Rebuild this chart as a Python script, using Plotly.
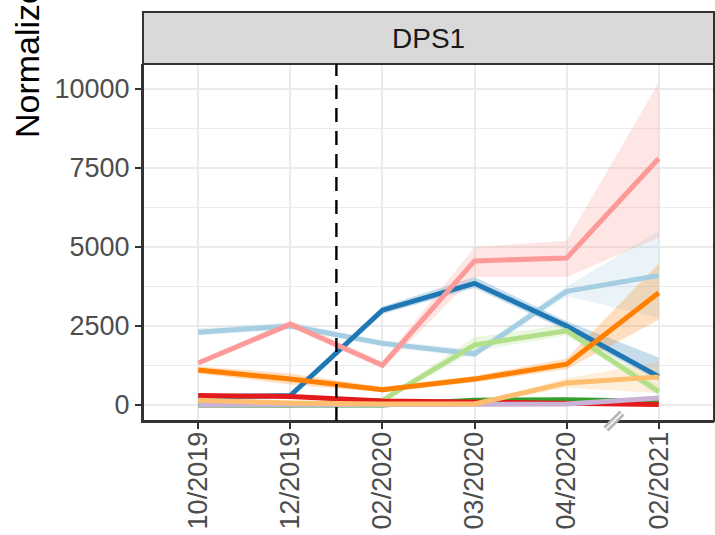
import plotly.graph_objects as go

dates = ["10/2019", "12/2019", "02/2020", "03/2020", "04/2020", "02/2021"]

# series: values, lower, upper
light_blue = [2300, 2500, 1950, 1620, 3600, 4100]
light_blue_lo = [2200, 2400, 1850, 1500, 3450, 2750]
light_blue_hi = [2420, 2620, 2050, 1750, 3750, 5500]

dark_blue = [250, 300, 3000, 3850, 2500, 900]
dark_blue_lo = [200, 250, 2880, 3700, 2350, 750]
dark_blue_hi = [300, 350, 3120, 4050, 2650, 1500]

light_green = [0, 0, 150, 1900, 2350, 420]
light_green_lo = [0, 0, 100, 1700, 2200, 300]
light_green_hi = [0, 0, 200, 2150, 2550, 600]

green = [0, 0, 0, 150, 170, 120]
green_lo = [0, 0, 0, 120, 140, 90]
green_hi = [0, 0, 0, 180, 200, 150]

pink = [1330, 2560, 1260, 4560, 4650, 7800]
pink_lo = [1250, 2450, 1150, 4050, 4050, 5300]
pink_hi = [1420, 2680, 1370, 5000, 5200, 10200]

red = [300, 270, 130, 90, 60, 20]
red_lo = [270, 240, 110, 70, 40, 0]
red_hi = [330, 300, 150, 110, 80, 40]

purple = [0, 0, 0, 0, 30, 220]
purple_lo = [0, 0, 0, 0, 10, 180]
purple_hi = [0, 0, 0, 0, 50, 260]

light_orange = [150, 60, 30, 30, 700, 890]
light_orange_lo = [100, 30, 10, 10, 550, 380]
light_orange_hi = [200, 90, 50, 50, 850, 1360]

orange = [1110, 820, 480, 820, 1290, 3550]
orange_lo = [1000, 650, 400, 720, 1130, 2700]
orange_hi = [1220, 1000, 570, 920, 1470, 4480]

series = [
    ("#A6CEE3", light_blue, light_blue_lo, light_blue_hi),
    ("#1F78B4", dark_blue, dark_blue_lo, dark_blue_hi),
    ("#B2DF8A", light_green, light_green_lo, light_green_hi),
    ("#33A02C", green, green_lo, green_hi),
    ("#FB9A99", pink, pink_lo, pink_hi),
    ("#E31A1C", red, red_lo, red_hi),
    ("#CAB2D6", purple, purple_lo, purple_hi),
    ("#FDBF6F", light_orange, light_orange_lo, light_orange_hi),
    ("#FF7F00", orange, orange_lo, orange_hi),
]

y_ticks = [0, 2500, 5000, 7500, 10000]
strip_label = "DPS1"
y_title = "Normalized abundance"
event_pos = 1.5


def rgba(hexc, a):
    h = hexc.lstrip("#")
    r, g, b = int(h[0:2], 16), int(h[2:4], 16), int(h[4:6], 16)
    return f"rgba({r},{g},{b},{a})"


fig = go.Figure()
for col, v, lo, hi in series:
    fig.add_trace(go.Scatter(
        x=dates + dates[::-1], y=hi + lo[::-1], fill="toself",
        fillcolor=rgba(col, 0.25), line=dict(width=0), mode="lines",
        hoverinfo="skip", showlegend=False))
for col, v, lo, hi in series:
    fig.add_trace(go.Scatter(
        x=dates, y=v, mode="lines", line=dict(color=col, width=5),
        showlegend=False))

W, H = 715, 535
L, R, T, B = 143, 714, 64, 421
pw, ph = R - L, B - T

font = "Liberation Sans, Arial, sans-serif"

fig.update_layout(
    width=W, height=H,
    margin=dict(l=L, r=W - R, t=T, b=H - B, autoexpand=False),
    paper_bgcolor="white", plot_bgcolor="white",
    font=dict(family=font),
    showlegend=False,
    xaxis=dict(
        type="category", categoryorder="array", categoryarray=dates,
        range=[-0.6, 5.6], showgrid=True, gridcolor="#EBEBEB", gridwidth=1.6,
        ticks="outside", ticklen=6, tickwidth=2, tickcolor="#333333",
        tickangle=-90, tickfont=dict(size=27, color="#4D4D4D", family=font),
        ticklabelstandoff=-8,
        showline=True, linecolor="#333333", linewidth=2, zeroline=False,
        fixedrange=True, automargin=False,
    ),
    yaxis=dict(
        range=[-506, 10791], tickvals=y_ticks, ticktext=[str(t) for t in y_ticks],
        showgrid=True, gridcolor="#EBEBEB", gridwidth=1.6,
        minor=dict(dtick=1250, tick0=0, showgrid=True, gridcolor="#EBEBEB", gridwidth=0.8),
        ticks="outside", ticklen=6, tickwidth=2, tickcolor="#333333",
        tickfont=dict(size=27, color="#4D4D4D", family=font),
        showline=True, linecolor="#333333", linewidth=2, zeroline=False,
        fixedrange=True, automargin=False,
    ),
)

strip_top = 1 + (T - 12) / ph
shapes = [
    dict(type="rect", xref="paper", yref="paper", x0=0, x1=1, y0=0, y1=1,
         line=dict(color="#333333", width=2), fillcolor="rgba(0,0,0,0)", layer="above"),
    dict(type="rect", xref="paper", yref="paper", x0=0, x1=1, y0=1, y1=strip_top,
         line=dict(color="#333333", width=2), fillcolor="#D9D9D9", layer="above"),
    dict(type="line", xref="x", yref="paper", x0=event_pos, x1=event_pos, y0=0, y1=1,
         line=dict(color="black", width=2.4, dash="14px,9px"), layer="above"),
    dict(type="line", xref="paper", yref="paper",
         x0=(606 - L) / pw, x1=(622 - L) / pw, y0=(B - 429) / ph, y1=(B - 413) / ph,
         line=dict(color="#B5B5B5", width=7), layer="above"),
    dict(type="line", xref="paper", yref="paper",
         x0=(606 - L) / pw, x1=(622 - L) / pw, y0=(B - 429) / ph, y1=(B - 413) / ph,
         line=dict(color="#F2F2F2", width=2), layer="above"),
]
fig.update_layout(shapes=shapes)

fig.add_annotation(
    text=strip_label, xref="paper", yref="paper", x=0.5, y=(1 + strip_top) / 2,
    xanchor="center", yanchor="middle", showarrow=False,
    font=dict(size=28, color="#1A1A1A", family=font))
fig.add_annotation(
    text=y_title, xref="paper", yref="paper", x=(27 - L) / pw, y=(B - 140) / ph,
    xanchor="center", yanchor="bottom", textangle=-90, showarrow=False,
    font=dict(size=34, color="black", family=font))

fig.write_html(
    "out.html",
    config={"displayModeBar": False},
    post_script="document.body.style.margin='0';document.body.style.overflow='hidden';",
)
